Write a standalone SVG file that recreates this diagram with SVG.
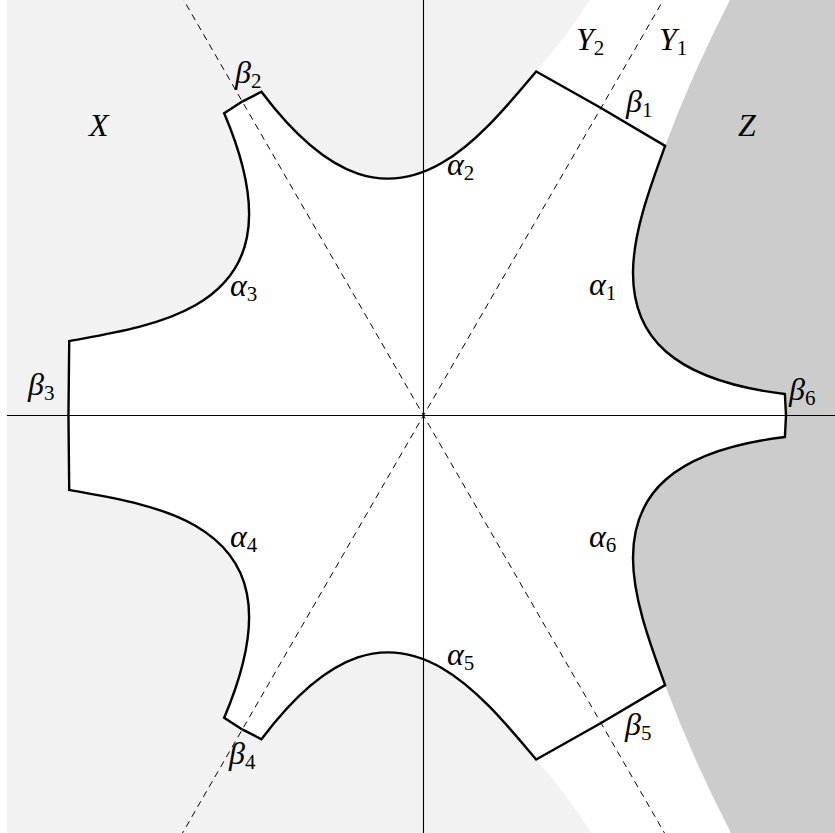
<svg xmlns="http://www.w3.org/2000/svg" width="835" height="833" viewBox="0 0 835 833">
<style>
.lbl{font-family:"Liberation Serif","Times New Roman",serif;font-style:italic;font-size:32px;fill:#000}
.sub{font-style:normal;font-size:21px}
.outline{fill:none;stroke:#000;stroke-width:2.4;stroke-linejoin:miter}
.wedge{fill:#fff;stroke:#fff;stroke-width:1}
.axis{stroke:#000;stroke-width:1.1;fill:none}
.dash{stroke:#000;stroke-width:1;stroke-dasharray:6.5 5;fill:none}
</style>
<defs>
<path id="w" d="M0,0 L362.5,0 L361.4,-21.5 C246.5,-35.5 209.5,-80.5 209.5,-142.5 C209.5,-185.5 229.5,-235.5 241.6,-269.6 L177.5,-307.5 Z"/>
<path id="o" d="M362.5,0 L361.4,-21.5 C246.5,-35.5 209.5,-80.5 209.5,-142.5 C209.5,-185.5 229.5,-235.5 241.6,-269.6 L177.5,-307.5"/>
<path id="strip" d="M0,0 L241.6,-269.6 Q268.5,-341.5 306.5,-415.5 L311,-426 L174,-426 L166.5,-415.5 Q142.5,-377.5 112.4,-344.1 Z"/>
</defs>
<rect x="0" y="0" width="835" height="833" fill="#fff"/>
<g id="region-X"><rect x="7" y="0" width="828" height="833" fill="#f2f2f2"/></g>
<g transform="translate(423.5,415.5)">
<g id="region-Y" fill="#fff">
<use href="#strip"/>
<use href="#strip" transform="scale(1,-1)"/>
</g>
<g id="region-Z"><path fill="#cccccc" d="M0,0 L241.6,-269.6 Q268.5,-341.5 306.5,-415.5 L311,-426 L420,-426 L420,426 L311,426 L306.5,415.5 Q268.5,341.5 241.6,269.6 Z"/></g>
<g id="interior" class="wedge">
<use href="#w"/>
<use href="#w" transform="rotate(-120)"/>
<use href="#w" transform="rotate(-240)"/>
<use href="#w" transform="scale(1,-1)"/>
<use href="#w" transform="rotate(-120) scale(1,-1)"/>
<use href="#w" transform="rotate(-240) scale(1,-1)"/>
</g>
</g>
<g id="axes">
<line class="axis" x1="7" y1="415.5" x2="835" y2="415.5"/>
<line class="axis" x1="423.5" y1="0" x2="423.5" y2="833"/>
<line class="dash" x1="180.5" y1="-5.5" x2="666.5" y2="836.5"/>
<line class="dash" x1="666.5" y1="-5.5" x2="180.5" y2="836.5"/>
</g>
<g id="outline" transform="translate(423.5,415.5)" class="outline">
<use href="#o"/>
<use href="#o" transform="rotate(-120)"/>
<use href="#o" transform="rotate(-240)"/>
<use href="#o" transform="scale(1,-1)"/>
<use href="#o" transform="rotate(-120) scale(1,-1)"/>
<use href="#o" transform="rotate(-240) scale(1,-1)"/>
</g>
<g id="labels">
<text class="lbl" x="89" y="136">X</text>
<text class="lbl" x="738" y="136">Z</text>
<text class="lbl" x="576" y="50">Y<tspan class="sub" dy="5">2</tspan></text>
<text class="lbl" x="659" y="50">Y<tspan class="sub" dy="5">1</tspan></text>
<text class="lbl" x="626" y="112">β<tspan class="sub" dy="5">1</tspan></text>
<text class="lbl" x="235" y="83">β<tspan class="sub" dy="5">2</tspan></text>
<text class="lbl" x="28" y="395">β<tspan class="sub" dy="5">3</tspan></text>
<text class="lbl" x="229" y="764">β<tspan class="sub" dy="5">4</tspan></text>
<text class="lbl" x="625" y="735">β<tspan class="sub" dy="5">5</tspan></text>
<text class="lbl" x="789" y="400">β<tspan class="sub" dy="5">6</tspan></text>
<text class="lbl" x="589" y="295">α<tspan class="sub" dy="5">1</tspan></text>
<text class="lbl" x="447" y="175">α<tspan class="sub" dy="5">2</tspan></text>
<text class="lbl" x="230" y="296">α<tspan class="sub" dy="5">3</tspan></text>
<text class="lbl" x="230" y="547">α<tspan class="sub" dy="5">4</tspan></text>
<text class="lbl" x="447" y="665">α<tspan class="sub" dy="5">5</tspan></text>
<text class="lbl" x="589" y="547">α<tspan class="sub" dy="5">6</tspan></text>
</g>
</svg>
